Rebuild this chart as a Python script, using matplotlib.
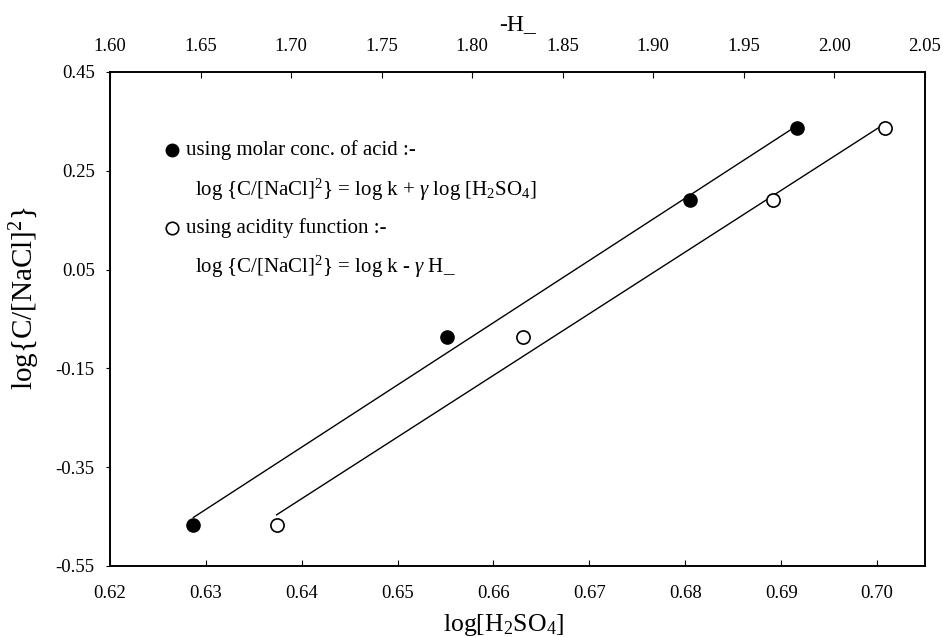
import numpy as np
import matplotlib
matplotlib.use("Agg")
import matplotlib.pyplot as plt
from matplotlib.ticker import FormatStrFormatter

plt.rcParams['font.family'] = ['Liberation Serif', 'DejaVu Serif']
plt.rcParams['mathtext.fontset'] = 'custom'
plt.rcParams['mathtext.rm'] = 'Liberation Serif'
plt.rcParams['mathtext.it'] = 'Liberation Serif:italic'

# data
log_acid = np.array([0.6287, 0.6552, 0.6805, 0.6917])    # log[H2SO4]
h_minus = np.array([1.692, 1.828, 1.966, 2.028])          # -H_
log_ratio = np.array([-0.468, -0.087, 0.191, 0.337])      # log{C/[NaCl]^2}

x_ticks = [0.62, 0.63, 0.64, 0.65, 0.66, 0.67, 0.68, 0.69, 0.70]
top_ticks = [1.60, 1.65, 1.70, 1.75, 1.80, 1.85, 1.90, 1.95, 2.00, 2.05]
y_ticks = [-0.55, -0.35, -0.15, 0.05, 0.25, 0.45]

fig = plt.figure(figsize=(9.43, 6.37), dpi=100)
ax = fig.add_axes([0.1166, 0.1115, 0.8643, 0.7755])
ax2 = ax.twiny()

# molar conc. (bottom axis)
ax.plot(log_acid, log_ratio, 'o', mfc='black', mec='black', ms=9.5, zorder=3)
p1 = np.polyfit(log_acid, log_ratio, 1)
xx = np.array([log_acid.min(), log_acid.max()])
ax.plot(xx, np.polyval(p1, xx), 'k-', lw=1.0)

# acidity function (top axis)
ax2.plot(h_minus, log_ratio, 'o', mfc='white', mec='black', mew=1.2, ms=9.5, zorder=3)
p2 = np.polyfit(h_minus, log_ratio, 1)
hh = np.array([h_minus.min(), h_minus.max()])
ax2.plot(hh, np.polyval(p2, hh), 'k-', lw=1.0)

ax.set_xlim(0.62, 0.705)
ax2.set_xlim(1.60, 2.05)
ax.set_ylim(-0.55, 0.45)
ax.set_xticks(x_ticks)
ax2.set_xticks(top_ticks)
ax.set_yticks(y_ticks)
ax.xaxis.set_major_formatter(FormatStrFormatter('%.2f'))
ax2.xaxis.set_major_formatter(FormatStrFormatter('%.2f'))
ax.yaxis.set_major_formatter(FormatStrFormatter('%.2f'))

ax.tick_params(axis='x', direction='in', length=4, pad=14, labelsize=13.5)
ax2.tick_params(axis='x', direction='in', length=4, pad=12, labelsize=13.5)
ax.tick_params(axis='y', direction='out', length=3, pad=8, labelsize=13.5)
for a in (ax, ax2):
    for sp in a.spines.values():
        sp.set_linewidth(1.2)

ax.set_xlabel(r'log[H$_2$SO$_4$]', fontsize=18.5)
ax.xaxis.set_label_coords(0.483, -0.093)
ax.set_ylabel(r'log{C/[NaCl]$^2$}', fontsize=21)
ax.yaxis.set_label_coords(-0.083, 0.543)
ax2.set_xlabel('-H_', fontsize=17, labelpad=6)

# key text inside the plot
ax.plot([0.076], [0.842], 'o', mfc='black', mec='black', ms=9, transform=ax.transAxes, clip_on=False)
ax.text(0.093, 0.842, 'using molar conc. of acid :-', transform=ax.transAxes,
        fontsize=15, va='center')
ax.text(0.104, 0.761, r'log {C/[NaCl]$^2$} = log k + $\gamma$ log [H$_2$SO$_4$]',
        transform=ax.transAxes, fontsize=15, va='center')
ax.plot([0.076], [0.684], 'o', mfc='white', mec='black', mew=1.2, ms=9, transform=ax.transAxes, clip_on=False)
ax.text(0.093, 0.684, 'using acidity function :-', transform=ax.transAxes,
        fontsize=15, va='center')
ax.text(0.104, 0.605, r'log {C/[NaCl]$^2$} = log k - $\gamma$ H_',
        transform=ax.transAxes, fontsize=15, va='center')

fig.savefig('out.png', dpi=100)
